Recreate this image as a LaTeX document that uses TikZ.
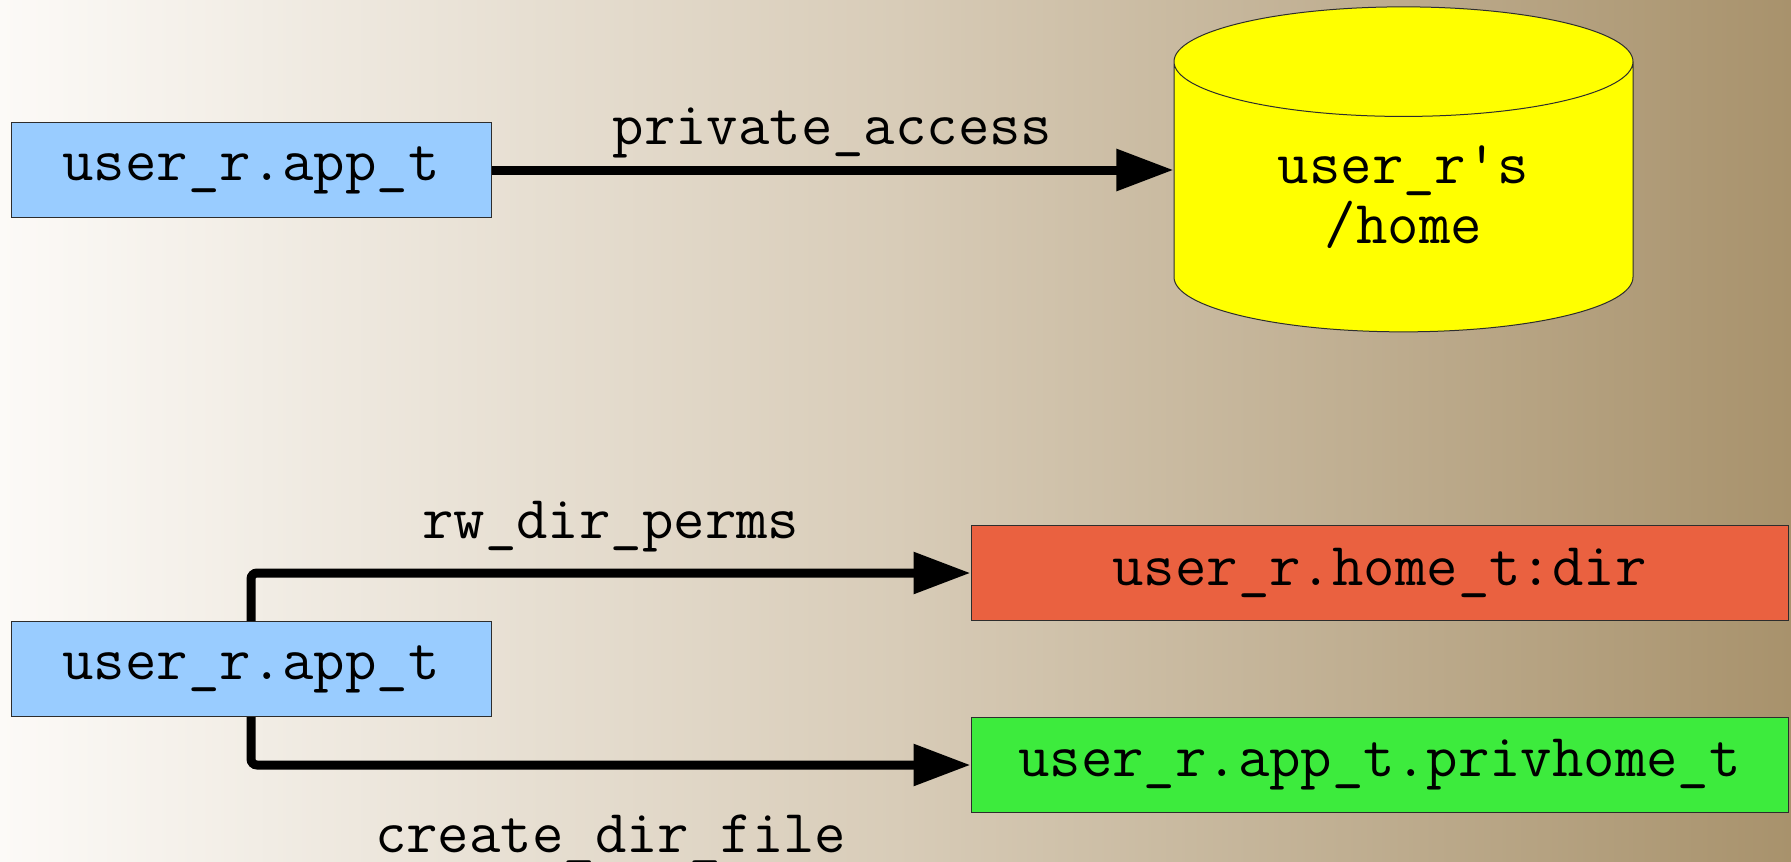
\documentclass[tikz,border=0pt]{standalone}
\usepackage{tikz}
\usetikzlibrary{arrows.meta,positioning,shapes.geometric}
\definecolor{seedge}{RGB}{45,45,45}
\definecolor{seapp}{RGB}{153,204,255}
\definecolor{sehome}{RGB}{255,255,0}
\definecolor{sedir}{RGB}{234,97,64}
\definecolor{sepriv}{RGB}{61,235,61}
\definecolor{sebgl}{RGB}{252,250,247}
\definecolor{sebgm}{RGB}{216,204,184}
\definecolor{sebgr}{RGB}{168,146,108}
\newcommand{\sefont}{\fontsize{61}{60}\selectfont\ttfamily}
\tikzset{
  sebox/.style={
    draw=seedge, line width=1pt, align=center, inner sep=0pt,
    font=\sefont, minimum height=95pt
  },
  appbox/.style={sebox, fill=seapp, minimum width=480pt},
  dirbox/.style={sebox, fill=sedir, minimum width=817pt},
  privbox/.style={sebox, fill=sepriv, minimum width=817pt},
  homecyl/.style={
    cylinder, shape border rotate=90, aspect=0.436,
    draw=seedge, line width=1pt, fill=sehome, align=center, inner sep=0pt,
    font=\sefont, minimum width=459pt, minimum height=325pt
  },
  arr/.style={-{Triangle[length=57pt,width=40pt]}, draw=black, line width=9pt, rounded corners=6pt},
  lbl/.style={font=\sefont, inner sep=0pt}
}

\begin{document}
\begin{tikzpicture}[x=1pt, y=-1pt]
  \useasboundingbox (0,0) rectangle (1791,862);
  \clip (0,0) rectangle (1791,862);
  \shade[left color=sebgl, right color=sebgr, middle color=sebgm] (0,0) rectangle (1791,862);

  % private home
  \node[appbox] (app) at (251,170) {user\_r.app\_t};
  \node[homecyl] (home) at (1403.5,197) {user\_r\textquotesingle s\\/home};
  \draw[arr] (app.east) -- (app.east -| home.west)
    node[lbl, midway, above=7pt] {private\_access};

  % types behind it
  \node[appbox] (app2) at (251,669) {user\_r.app\_t};
  \node[dirbox] (dir) at (1379.5,573) {user\_r.home\_t:dir};
  \node[privbox] (priv) at (1379.5,765) {user\_r.app\_t.privhome\_t};
  \draw[arr] (app2.north) |- (dir.west)
    node[lbl, pos=0.75, above=16pt] {rw\_dir\_perms};
  \draw[arr] (app2.south) |- (priv.west)
    node[lbl, pos=0.75, below=45pt] {create\_dir\_file};
\end{tikzpicture}
\end{document}
